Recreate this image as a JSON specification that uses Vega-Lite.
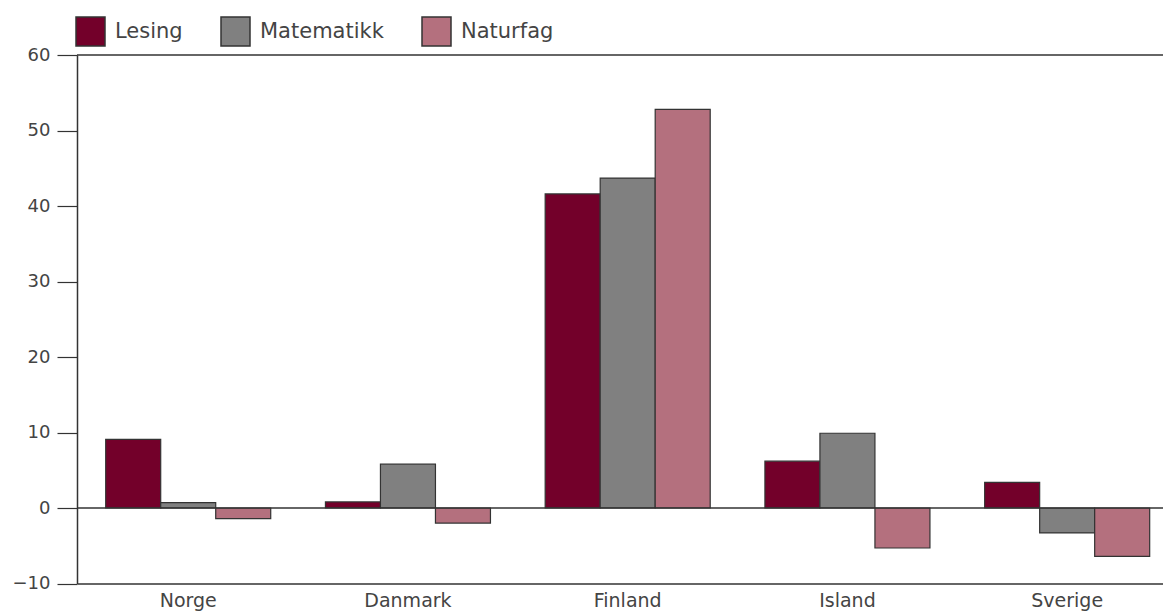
{
  "$schema": "https://vega.github.io/schema/vega-lite/v6.json",
  "width": 1086,
  "height": 528.5,
  "autosize": {"type": "none"},
  "padding": {"left": 77, "top": 55, "right": 0, "bottom": 29.5},
  "background": "white",
  "config": {"view": {"stroke": null}, "font": "DejaVu Sans"},
  "layer": [
    {
      "data": {
        "values": [
          {"land": "Norge", "fag": "Lesing", "verdi": 9.1},
          {"land": "Norge", "fag": "Matematikk", "verdi": 0.7},
          {"land": "Norge", "fag": "Naturfag", "verdi": -1.4},
          {"land": "Danmark", "fag": "Lesing", "verdi": 0.8},
          {"land": "Danmark", "fag": "Matematikk", "verdi": 5.8},
          {"land": "Danmark", "fag": "Naturfag", "verdi": -2.0},
          {"land": "Finland", "fag": "Lesing", "verdi": 41.6},
          {"land": "Finland", "fag": "Matematikk", "verdi": 43.7},
          {"land": "Finland", "fag": "Naturfag", "verdi": 52.8},
          {"land": "Island", "fag": "Lesing", "verdi": 6.2},
          {"land": "Island", "fag": "Matematikk", "verdi": 9.9},
          {"land": "Island", "fag": "Naturfag", "verdi": -5.3},
          {"land": "Sverige", "fag": "Lesing", "verdi": 3.4},
          {"land": "Sverige", "fag": "Matematikk", "verdi": -3.3},
          {"land": "Sverige", "fag": "Naturfag", "verdi": -6.4}
        ]
      },
      "mark": {"type": "bar", "stroke": "#333333", "strokeWidth": 1.2},
      "encoding": {
        "x": {
          "field": "land",
          "type": "nominal",
          "sort": ["Norge", "Danmark", "Finland", "Island", "Sverige"],
          "scale": {"paddingInner": 0.249, "paddingOuter": 0.0956, "align": 0.683},
          "axis": {
            "title": null,
            "labelAngle": 0,
            "ticks": false,
            "domain": true,
            "domainColor": "#333333",
            "domainWidth": 1.5,
            "labelFont": "DejaVu Sans",
            "labelFontSize": 19,
            "labelColor": "#444444",
            "labelPadding": 8
          }
        },
        "xOffset": {
          "field": "fag",
          "type": "nominal",
          "sort": ["Lesing", "Matematikk", "Naturfag"],
          "scale": {"paddingInner": 0, "paddingOuter": 0}
        },
        "y": {
          "field": "verdi",
          "type": "quantitative",
          "scale": {"domain": [-10, 60], "nice": false, "zero": false},
          "axis": {
            "title": null,
            "values": [-10, 0, 10, 20, 30, 40, 50, 60],
            "grid": false,
            "tickSize": 20,
            "tickColor": "#333333",
            "tickWidth": 1.2,
            "domainColor": "#333333",
            "domainWidth": 1.5,
            "labelFont": "DejaVu Sans",
            "labelFontSize": 18,
            "labelColor": "#444444",
            "labelPadding": 7
          }
        },
        "color": {
          "field": "fag",
          "type": "nominal",
          "scale": {
            "domain": ["Lesing", "Matematikk", "Naturfag"],
            "range": ["#73002a", "#808080", "#b4707e"]
          },
          "legend": {
            "title": null,
            "orient": "none",
            "direction": "horizontal",
            "legendX": -2,
            "legendY": -39,
            "symbolType": "square",
            "symbolSize": 841,
            "symbolStrokeColor": "#333333",
            "symbolStrokeWidth": 1.5,
            "symbolOpacity": 1,
            "labelFont": "DejaVu Sans",
            "labelFontSize": 21,
            "labelColor": "#444444",
            "labelOffset": 9,
            "columnPadding": 35,
            "padding": 0
          }
        }
      }
    },
    {
      "data": {"values": [{"y": 0}, {"y": 60}]},
      "mark": {"type": "rule", "color": "#333333", "strokeWidth": 1.3},
      "encoding": {"y": {"field": "y", "type": "quantitative"}}
    }
  ]
}
